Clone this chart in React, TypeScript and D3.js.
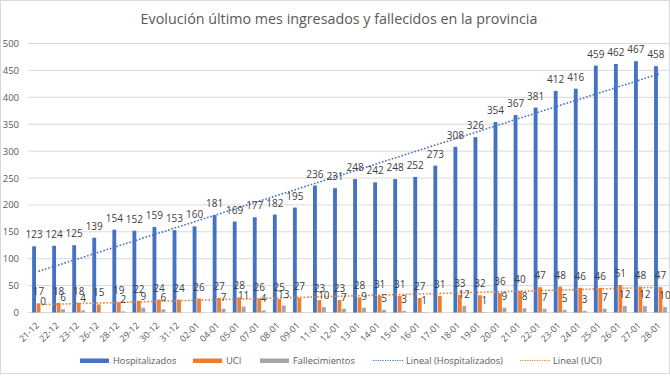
import React from "react";
import * as d3 from "d3";

const categories = ["21-12","22-12","23-12","26-12","28-12","29-12","30-12","31-12","02-01","04-01","05-01","07-01","08-01","09-01","11-01","12-01","13-01","14-01","15-01","16-01","17-01","18-01","19-01","20-01","21-01","22-01","23-01","24-01","25-01","26-01","27-01","28-01"];
const hospitalizados = [123,124,125,139,154,152,159,153,160,181,169,177,182,195,236,231,248,242,248,252,273,308,326,354,367,381,412,416,459,462,467,458];
const uci = [17,18,18,15,19,22,24,24,26,27,28,26,25,27,23,23,28,31,31,27,31,33,32,36,40,47,48,46,46,51,48,47];
const fallecimientos: (number | null)[] = [0,6,4,null,2,9,6,null,null,7,11,4,13,null,10,7,9,5,3,1,null,12,1,9,8,7,5,3,7,12,12,10];
const yTicks = [0,50,100,150,200,250,300,350,400,450,500];
const seriesNames = ["Hospitalizados","UCI","Fallecimientos"];
const trendNames = ["Lineal (Hospitalizados)","Lineal (UCI)"];
const title = "Evolución último mes ingresados y fallecidos en la provincia";

const W = 670, H = 377;
const colors = ["#4472C4", "#ED7D31", "#A5A5A5"];
const FONT = "'Open Sans', sans-serif";

function linreg(vals: number[]) {
  const n = vals.length;
  const xs = vals.map((_, i) => i + 1);
  const mx = d3.mean(xs)!, my = d3.mean(vals)!;
  let num = 0, den = 0;
  xs.forEach((x, i) => { num += (x - mx) * (vals[i] - my); den += (x - mx) ** 2; });
  const b = num / den, a = my - b * mx;
  return [a + b * 1, a + b * n];
}

export default function App() {
  const x = d3.scaleBand<string>().domain(categories).range([28.5, 670.5]);
  const y = d3.scaleLinear().domain([0, 500]).range([312.5, 43.5]);
  const sub = d3.scaleBand<string>().domain(["h","u","f"]).range([-6.4, 6.4]).paddingInner(0.14);
  const bw = sub.bandwidth();
  const cx = (c: string) => x(c)! + x.bandwidth() / 2;
  const series = [hospitalizados, uci, fallecimientos];
  const keys = ["h", "u", "f"];
  const trends = [linreg(hospitalizados), linreg(uci)];
  const first = categories[0], last = categories[categories.length - 1];
  const lineGen = d3.line<[number, number]>().x(d => d[0]).y(d => d[1]);

  const legendItems = [
    { label: seriesNames[0], x: 80, type: "bar", color: colors[0] },
    { label: seriesNames[1], x: 193, type: "bar", color: colors[1] },
    { label: seriesNames[2], x: 260, type: "bar", color: colors[2] },
    { label: trendNames[0], x: 373, type: "line", color: colors[0] },
    { label: trendNames[1], x: 520, type: "line", color: colors[1] },
  ];

  return (
    <div style={{ position: "fixed", left: 0, top: 0 }}>
      <svg width={W} height={H} style={{ display: "block", background: "#fff" }} fontFamily={FONT}>
        <rect x={0.5} y={0.5} width={W - 1} height={373} fill="#fff" stroke="#D9D9D9" />
        <text x={339} y={24} textAnchor="middle" fontSize={14.3} fill="#595959">{title}</text>
        {yTicks.map(t => (
          <g key={t}>
            <line x1={28} x2={670} y1={y(t)} y2={y(t)} stroke="#D9D9D9" strokeWidth={1} />
            <text x={19} y={y(t) + 3.5} textAnchor="end" fontSize={9.5} fill="#595959">{t}</text>
          </g>
        ))}
        {series.map((vals, si) => (
          <g key={si}>
            {categories.map((c, i) => {
              const v = vals[i];
              if (v === null || v === undefined) return null;
              const bx = cx(c) + sub(keys[si])!;
              return (
                <rect key={c} x={bx} y={y(v)} width={bw} height={y(0) - y(v)} fill={colors[si]} />
              );
            })}
          </g>
        ))}
        {trends.map((tr, ti) => (
          <path key={ti}
            d={lineGen([[cx(first), y(tr[0])], [cx(last), y(tr[1])]])!}
            stroke={colors[ti]} strokeWidth={1.6} strokeDasharray="1.6 1.8" fill="none" />
        ))}
        {series.map((vals, si) => (
          <g key={"l" + si}>
            {categories.map((c, i) => {
              const v = vals[i];
              if (v === null || v === undefined) return null;
              const bx = cx(c) + sub(keys[si])! + bw / 2;
              return (
                <text key={c} x={bx} y={y(v) - 8} textAnchor="middle" fontSize={10} fill="#404040">{v}</text>
              );
            })}
          </g>
        ))}
        {categories.map(c => (
          <text key={c} transform={`translate(${cx(c) + 1},${326}) rotate(-45)`} textAnchor="end" fontSize={9} fill="#595959">{c}</text>
        ))}
        {legendItems.map(it => (
          <g key={it.label}>
            {it.type === "bar"
              ? <rect x={it.x} y={358.5} width={29} height={4.5} fill={it.color} />
              : <line x1={it.x} x2={it.x + 31} y1={360.5} y2={360.5} stroke={it.color} strokeWidth={1.2} strokeDasharray="1.2 1.2" />}
            <text x={it.x + 33} y={364} fontSize={9.3} fill="#595959">{it.label}</text>
          </g>
        ))}
      </svg>
    </div>
  );
}
